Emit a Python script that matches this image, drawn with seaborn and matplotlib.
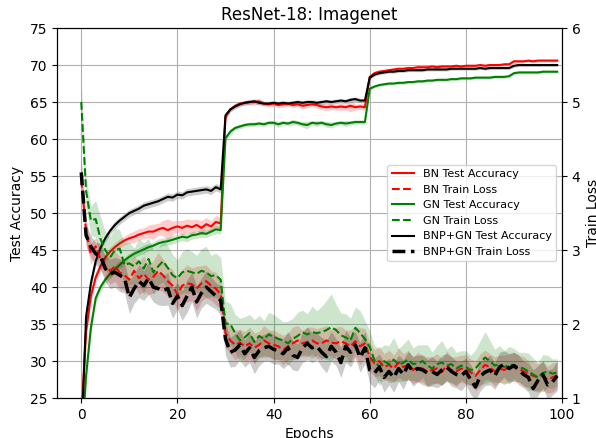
import seaborn as sns
import numpy as np
import matplotlib.pyplot as plt

epochs = np.arange(100)

# test accuracy (left axis), mean per epoch
bn_acc = [22.0, 34.0, 38.8, 41.3, 42.8, 44.0, 44.8, 45.4, 45.9, 46.3,
          46.6, 46.8, 47.1, 47.3, 47.5, 47.5, 47.8, 48.0, 47.7, 48.0,
          48.2, 48.0, 48.3, 48.1, 48.4, 48.0, 48.5, 48.2, 48.8, 48.6,
          63.0, 64.0, 64.5, 64.8, 64.9, 65.0, 65.0, 65.1, 64.8, 64.7,
          64.8, 64.6, 64.7, 64.8, 64.6, 64.7, 64.5, 64.6, 64.7, 64.6,
          64.4, 64.3, 64.4, 64.3, 64.4, 64.3, 64.5, 64.3, 64.4, 64.3,
          68.4, 68.9, 69.1, 69.2, 69.3, 69.4, 69.5, 69.5, 69.6, 69.6,
          69.7, 69.7, 69.7, 69.8, 69.7, 69.8, 69.8, 69.8, 69.9, 69.8,
          69.9, 69.9, 69.9, 70.0, 69.9, 70.0, 70.0, 70.0, 70.1, 70.1,
          70.5, 70.5, 70.5, 70.6, 70.5, 70.6, 70.6, 70.6, 70.6, 70.6]
gn_acc = [18.0, 28.0, 34.5, 38.5, 40.0, 41.0, 41.8, 42.4, 43.0, 43.6,
          44.1, 44.5, 44.8, 45.1, 45.4, 45.6, 45.9, 46.1, 46.2, 46.4,
          46.6, 46.8, 46.7, 47.0, 47.1, 47.3, 47.2, 47.5, 47.8, 47.7,
          60.1, 61.0, 61.5, 61.7, 61.9, 62.0, 62.0, 62.1, 62.0, 62.2,
          62.2, 62.0, 62.2, 62.1, 62.3, 62.2, 62.0, 61.9, 62.2, 62.1,
          62.2, 62.0, 61.9, 62.1, 62.2, 62.1, 62.2, 62.3, 62.3, 62.3,
          66.8, 67.1, 67.3, 67.4, 67.5, 67.5, 67.6, 67.6, 67.7, 67.7,
          67.8, 67.8, 67.9, 67.9, 68.0, 68.0, 68.0, 68.1, 68.1, 68.2,
          68.2, 68.2, 68.3, 68.3, 68.3, 68.3, 68.4, 68.4, 68.4, 68.5,
          68.9, 69.0, 69.0, 69.0, 69.0, 69.0, 69.1, 69.1, 69.1, 69.1]
bnp_acc = [19.0, 36.0, 40.5, 43.5, 45.3, 46.6, 47.6, 48.4, 49.0, 49.5,
           50.0, 50.3, 50.6, 51.0, 51.2, 51.4, 51.6, 51.9, 52.2, 52.1,
           52.5, 52.4, 52.8, 52.9, 53.0, 53.1, 53.2, 53.0, 53.5, 53.2,
           63.2, 64.0, 64.4, 64.7, 64.9, 65.0, 65.1, 64.9, 64.8, 64.8,
           64.9, 64.8, 64.9, 64.8, 64.9, 65.0, 64.9, 65.0, 65.0, 64.9,
           65.0, 65.1, 65.0, 65.1, 65.2, 65.1, 65.3, 65.4, 65.2, 65.2,
           68.3, 68.7, 68.9, 69.0, 69.1, 69.1, 69.2, 69.2, 69.3, 69.3,
           69.3, 69.3, 69.4, 69.4, 69.4, 69.4, 69.4, 69.5, 69.5, 69.5,
           69.5, 69.5, 69.5, 69.6, 69.5, 69.6, 69.6, 69.6, 69.6, 69.6,
           69.9, 70.0, 70.0, 70.0, 70.0, 70.0, 70.0, 70.0, 70.0, 70.0]

# train loss (right axis), mean per epoch
bn_loss = [3.95, 3.25, 2.95, 3.05, 2.88, 2.78, 2.72, 2.78, 2.70, 2.66,
           2.60, 2.72, 2.62, 2.68, 2.60, 2.64, 2.72, 2.66, 2.58, 2.52,
           2.40, 2.52, 2.55, 2.54, 2.48, 2.55, 2.58, 2.52, 2.48, 2.40,
           1.88, 1.78, 1.72, 1.75, 1.70, 1.74, 1.68, 1.72, 1.78, 1.74,
           1.72, 1.70, 1.65, 1.70, 1.74, 1.78, 1.74, 1.76, 1.78, 1.74,
           1.74, 1.78, 1.75, 1.74, 1.77, 1.74, 1.70, 1.77, 1.70, 1.74,
           1.56, 1.47, 1.50, 1.42, 1.45, 1.40, 1.48, 1.42, 1.45, 1.38,
           1.42, 1.40, 1.36, 1.38, 1.40, 1.35, 1.44, 1.38, 1.36, 1.40,
           1.39, 1.35, 1.30, 1.38, 1.45, 1.42, 1.36, 1.40, 1.38, 1.42,
           1.42, 1.40, 1.36, 1.33, 1.30, 1.28, 1.30, 1.25, 1.28, 1.31]
gn_loss = [5.00, 3.80, 3.40, 3.42, 3.15, 3.00, 2.90, 3.00, 3.02, 2.80,
           2.82, 2.78, 2.85, 2.75, 2.88, 2.70, 2.78, 2.85, 2.76, 2.66,
           2.62, 2.70, 2.72, 2.70, 2.68, 2.72, 2.70, 2.65, 2.66, 2.60,
           2.01, 2.00, 1.88, 1.78, 1.82, 1.88, 1.76, 1.84, 1.80, 1.86,
           1.83, 1.80, 1.78, 1.74, 1.80, 1.84, 1.89, 1.86, 1.89, 1.88,
           1.89, 1.92, 1.96, 1.92, 1.85, 1.82, 1.78, 1.95, 1.88, 1.80,
           1.69, 1.51, 1.42, 1.50, 1.46, 1.52, 1.45, 1.48, 1.52, 1.46,
           1.47, 1.50, 1.44, 1.40, 1.46, 1.48, 1.44, 1.46, 1.40, 1.44,
           1.42, 1.38, 1.40, 1.48, 1.55, 1.50, 1.44, 1.46, 1.42, 1.45,
           1.45, 1.42, 1.40, 1.36, 1.32, 1.28, 1.34, 1.36, 1.33, 1.35]
bnp_loss = [4.05, 3.20, 3.05, 2.95, 2.92, 2.75, 2.68, 2.70, 2.66, 2.62,
            2.36, 2.48, 2.58, 2.52, 2.62, 2.50, 2.48, 2.45, 2.48, 2.28,
            2.38, 2.25, 2.38, 2.50, 2.30, 2.42, 2.50, 2.44, 2.38, 2.32,
            1.80, 1.62, 1.65, 1.72, 1.60, 1.68, 1.55, 1.64, 1.68, 1.70,
            1.66, 1.64, 1.60, 1.68, 1.58, 1.55, 1.68, 1.74, 1.68, 1.70,
            1.62, 1.56, 1.70, 1.62, 1.48, 1.70, 1.62, 1.72, 1.55, 1.68,
            1.38, 1.34, 1.42, 1.28, 1.36, 1.28, 1.40, 1.32, 1.45, 1.36,
            1.40, 1.38, 1.34, 1.36, 1.32, 1.38, 1.42, 1.36, 1.32, 1.30,
            1.36, 1.25, 1.15, 1.30, 1.35, 1.38, 1.30, 1.42, 1.46, 1.40,
            1.44, 1.38, 1.32, 1.28, 1.13, 1.24, 1.32, 1.18, 1.22, 1.30]

# spread (+/-) around each mean
bn_acc_sd = [1.5, 1.0, 0.8, 0.7, 0.6, 0.6, 0.6, 0.6, 0.6, 0.6,
             0.7, 0.8, 0.8, 0.7, 0.9, 1.0, 0.8, 1.0, 1.5, 0.9,
             0.8, 1.0, 0.9, 1.0, 0.8, 1.0, 0.9, 0.8, 0.9, 0.7,
             0.4, 0.3, 0.3, 0.3, 0.3, 0.4, 0.4, 0.4, 0.3, 0.4,
             0.3, 0.4, 0.4, 0.3, 0.4, 0.3, 0.4, 0.4, 0.3, 0.4,
             0.4, 0.5, 0.4, 0.4, 0.5, 0.4, 0.8, 0.4, 0.4, 0.4,
             0.3, 0.3, 0.2, 0.2, 0.2, 0.2, 0.2, 0.2, 0.2, 0.2,
             0.2, 0.2, 0.2, 0.2, 0.2, 0.2, 0.2, 0.2, 0.2, 0.2,
             0.2, 0.2, 0.2, 0.2, 0.2, 0.2, 0.2, 0.2, 0.2, 0.2,
             0.3, 0.2, 0.2, 0.2, 0.2, 0.2, 0.2, 0.2, 0.2, 0.2]
gn_acc_sd = [1.5, 1.0, 0.8, 0.7, 0.6, 0.6, 0.6, 0.6, 0.6, 0.5,
             0.5, 0.5, 0.5, 0.6, 0.5, 0.5, 0.6, 0.5, 0.5, 0.6,
             0.5, 0.5, 0.6, 0.5, 0.5, 0.6, 0.5, 0.5, 0.6, 0.5,
             0.4, 0.4, 0.3, 0.3, 0.3, 0.3, 0.3, 0.3, 0.3, 0.3,
             0.3, 0.4, 0.3, 0.3, 0.4, 0.3, 0.4, 0.5, 0.3, 0.4,
             0.3, 0.4, 0.4, 0.3, 0.3, 0.4, 0.3, 0.3, 0.3, 0.3,
             0.3, 0.2, 0.2, 0.2, 0.2, 0.2, 0.2, 0.2, 0.2, 0.2,
             0.2, 0.2, 0.2, 0.2, 0.2, 0.2, 0.2, 0.2, 0.2, 0.2,
             0.2, 0.2, 0.2, 0.2, 0.2, 0.2, 0.2, 0.2, 0.2, 0.2,
             0.2, 0.2, 0.2, 0.2, 0.2, 0.2, 0.2, 0.2, 0.2, 0.2]
bnp_acc_sd = [1.5, 1.0, 0.8, 0.6, 0.5, 0.5, 0.5, 0.5, 0.5, 0.5,
              0.5, 0.5, 0.5, 0.5, 0.5, 0.5, 0.5, 0.5, 0.5, 0.5,
              0.5, 0.5, 0.5, 0.5, 0.5, 0.5, 0.5, 0.5, 0.5, 0.5,
              0.4, 0.3, 0.3, 0.3, 0.3, 0.3, 0.3, 0.3, 0.3, 0.3,
              0.3, 0.3, 0.3, 0.3, 0.3, 0.3, 0.3, 0.3, 0.3, 0.3,
              0.3, 0.3, 0.3, 0.3, 0.3, 0.3, 0.3, 0.3, 0.3, 0.3,
              0.3, 0.2, 0.2, 0.2, 0.2, 0.2, 0.2, 0.2, 0.2, 0.2,
              0.2, 0.2, 0.2, 0.2, 0.2, 0.2, 0.2, 0.2, 0.2, 0.2,
              0.2, 0.2, 0.2, 0.2, 0.2, 0.2, 0.2, 0.2, 0.2, 0.2,
              0.2, 0.2, 0.2, 0.2, 0.2, 0.2, 0.2, 0.2, 0.2, 0.2]
bn_loss_sd = [0.20, 0.15, 0.15, 0.12, 0.15, 0.15, 0.18, 0.20, 0.22, 0.20,
              0.25, 0.20, 0.22, 0.24, 0.20, 0.22, 0.25, 0.22, 0.20, 0.22,
              0.20, 0.22, 0.25, 0.22, 0.30, 0.24, 0.22, 0.20, 0.22, 0.20,
              0.20, 0.18, 0.20, 0.18, 0.20, 0.22, 0.20, 0.18, 0.20, 0.18,
              0.20, 0.18, 0.20, 0.18, 0.22, 0.20, 0.18, 0.20, 0.18, 0.20,
              0.22, 0.20, 0.18, 0.22, 0.20, 0.18, 0.22, 0.20, 0.25, 0.20,
              0.20, 0.18, 0.20, 0.18, 0.20, 0.18, 0.20, 0.18, 0.20, 0.18,
              0.20, 0.18, 0.20, 0.18, 0.20, 0.18, 0.20, 0.18, 0.20, 0.18,
              0.20, 0.18, 0.20, 0.22, 0.20, 0.18, 0.20, 0.18, 0.20, 0.18,
              0.20, 0.18, 0.20, 0.18, 0.20, 0.18, 0.20, 0.18, 0.20, 0.18]
gn_loss_sd = [0.25, 0.20, 0.20, 0.25, 0.30, 0.25, 0.28, 0.30, 0.25, 0.30,
              0.28, 0.25, 0.30, 0.35, 0.28, 0.30, 0.25, 0.28, 0.30, 0.28,
              0.25, 0.28, 0.30, 0.28, 0.25, 0.30, 0.35, 0.28, 0.30, 0.30,
              0.30, 0.28, 0.25, 0.30, 0.28, 0.25, 0.30, 0.28, 0.25, 0.30,
              0.30, 0.28, 0.25, 0.30, 0.28, 0.32, 0.30, 0.28, 0.35, 0.30,
              0.35, 0.40, 0.45, 0.35, 0.30, 0.32, 0.30, 0.28, 0.30, 0.25,
              0.22, 0.20, 0.25, 0.22, 0.25, 0.30, 0.22, 0.25, 0.28, 0.22,
              0.25, 0.22, 0.28, 0.22, 0.25, 0.30, 0.22, 0.25, 0.22, 0.20,
              0.22, 0.20, 0.25, 0.30, 0.35, 0.28, 0.22, 0.25, 0.22, 0.25,
              0.22, 0.20, 0.22, 0.25, 0.22, 0.20, 0.25, 0.22, 0.20, 0.18]
bnp_loss_sd = [0.20, 0.15, 0.15, 0.15, 0.18, 0.18, 0.20, 0.20, 0.22, 0.20,
               0.22, 0.20, 0.22, 0.20, 0.22, 0.20, 0.22, 0.20, 0.22, 0.20,
               0.18, 0.20, 0.22, 0.20, 0.22, 0.20, 0.22, 0.20, 0.18, 0.20,
               0.22, 0.20, 0.22, 0.20, 0.18, 0.20, 0.22, 0.20, 0.18, 0.20,
               0.20, 0.18, 0.20, 0.22, 0.20, 0.18, 0.20, 0.22, 0.20, 0.18,
               0.20, 0.22, 0.20, 0.18, 0.20, 0.22, 0.20, 0.18, 0.20, 0.22,
               0.18, 0.20, 0.18, 0.20, 0.18, 0.20, 0.18, 0.20, 0.18, 0.20,
               0.18, 0.20, 0.18, 0.20, 0.18, 0.20, 0.18, 0.20, 0.18, 0.20,
               0.18, 0.20, 0.18, 0.20, 0.18, 0.20, 0.18, 0.20, 0.18, 0.20,
               0.18, 0.20, 0.18, 0.20, 0.25, 0.20, 0.18, 0.20, 0.18, 0.20]

fig, ax = plt.subplots(figsize=(5.96, 4.38), dpi=100)
fig.subplots_adjust(left=0.096, right=0.943, bottom=0.091, top=0.936)
ax2 = ax.twinx()

acc_series = [(bn_acc, bn_acc_sd, "r", "BN Test Accuracy"),
              (gn_acc, gn_acc_sd, "g", "GN Test Accuracy"),
              (bnp_acc, bnp_acc_sd, "k", "BNP+GN Test Accuracy")]
loss_series = [(bn_loss, bn_loss_sd, "r", 1.5, "BN Train Loss"),
               (gn_loss, gn_loss_sd, "g", 1.5, "GN Train Loss"),
               (bnp_loss, bnp_loss_sd, "k", 2.5, "BNP+GN Train Loss")]

handles = []
for (acc, acc_sd, c, lab), (loss, loss_sd, c2, lw, lab2) in zip(acc_series, loss_series):
    acc = np.array(acc)
    loss = np.array(loss)
    sns.lineplot(x=epochs, y=acc, ax=ax, color=c, linewidth=1.5, label=lab, legend=False)
    handles.append(ax.get_lines()[-1])
    ax.fill_between(epochs, acc - np.array(acc_sd), acc + np.array(acc_sd), color=c, alpha=0.2, lw=0)
    sns.lineplot(x=epochs, y=loss, ax=ax2, color=c2, linewidth=lw, linestyle="--", label=lab2, legend=False)
    handles.append(ax2.get_lines()[-1])
    ax2.fill_between(epochs, loss - np.array(loss_sd), loss + np.array(loss_sd), color=c2, alpha=0.2, lw=0)

ax.set_xlim(-5, 100)
ax.set_ylim(25, 75)
ax2.set_ylim(1, 6)
ax.set_xticks([0, 20, 40, 60, 80, 100])
ax.set_yticks(range(25, 80, 5))
ax2.set_yticks(range(1, 7))
ax.grid(True)
ax.set_xlabel("Epochs")
ax.set_ylabel("Test Accuracy")
ax2.set_ylabel("Train Loss")
ax.set_title("ResNet-18: Imagenet")
ax2.legend(handles=handles, loc="center right", fontsize=8)

fig.savefig("out.png", dpi=100)
